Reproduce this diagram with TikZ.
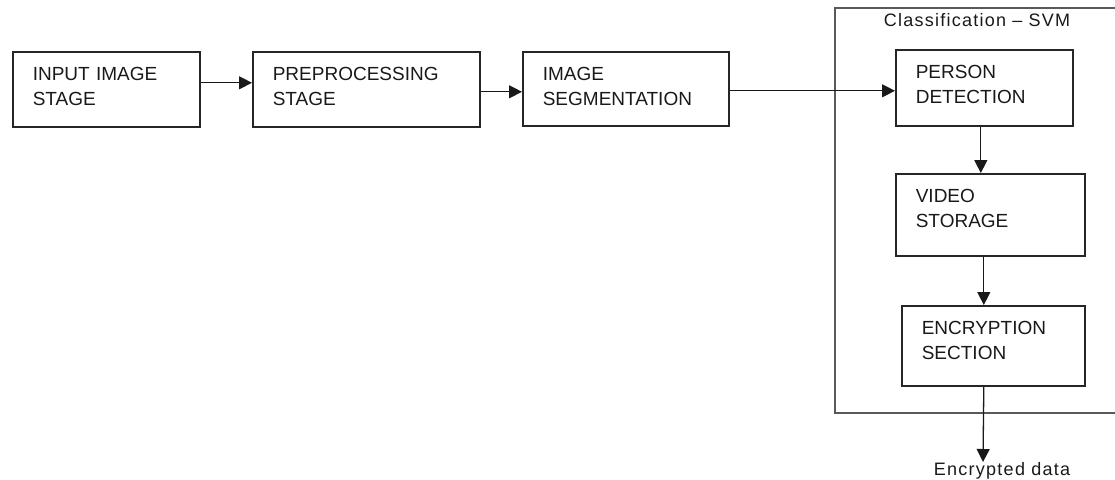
\documentclass[tikz,border=0pt]{standalone}
\usepackage{fontspec}
\setmainfont{Liberation Sans}
\usetikzlibrary{arrows.meta,positioning,calc}
\newcommand{\boxfont}{\fontsize{19}{25}\selectfont}
\newcommand{\notefont}{\fontsize{18}{22}\selectfont\addfontfeature{LetterSpace=7}}
\tikzstyle{stagebox}=[rectangle, draw=black!85, line width=1.6pt, anchor=north west,
  inner xsep=20pt, inner ysep=0pt, align=left, text height=29pt, text=black!90, font=\boxfont]
\tikzstyle{flow}=[-{Triangle[length=13pt,width=13pt]}, line width=1.3pt, draw=black!90]
\tikzstyle{svmframe}=[rectangle, draw=black!65, line width=2pt, anchor=north west, inner sep=0pt]

\begin{document}
\begin{tikzpicture}[x=1pt,y=-1pt]
\useasboundingbox (0,0) rectangle (1115,479);

% classification frame (runs past the right edge)
\node[svmframe, minimum width=290pt, minimum height=405pt] (svm) at (834,7) {};
\node[font=\notefont, text=black!90, anchor=base] (svmtitle) at (977,26) {Classification -- SVM};

% main stages
\node[stagebox, text width=147pt, text depth=46pt] (input) at (12,51) {INPUT IMAGE\\STAGE};
\node[stagebox, text width=187pt, text depth=46pt] (prep) at (252,51) {PREPROCESSING\\STAGE};
\node[stagebox, text width=166pt, text depth=45pt] (seg) at (522,51) {IMAGE\\SEGMENTATION};

% inside the frame
\node[stagebox, text width=137pt, text depth=47pt] (person) at (895,49) {PERSON\\DETECTION};
\node[stagebox, text width=149pt, text depth=53pt] (video) at (895,173) {VIDEO\\STORAGE};
\node[stagebox, text width=143pt, text depth=51pt] (crypt) at (901,305) {ENCRYPTION\\SECTION};

% output
\coordinate (tip) at (983,462);
\node[font=\notefont, text=black!90, anchor=base] (out) at (1002,475) {Encrypted data};

% connectors
\draw[flow] ([yshift=6.5pt]input.east) -- ([yshift=6.5pt]input.east -| prep.west);
\draw[flow] ([yshift=-2.5pt]prep.east) -- ([yshift=-2.5pt]prep.east -| seg.west);
\draw[flow] ([yshift=-2pt]seg.east) -- ([yshift=-2pt]seg.east -| person.west);
\draw[flow] ([xshift=-3.5pt]person.south) -- ([xshift=-9.5pt]video.north);
\draw[flow] ([xshift=-6.5pt]video.south) -- ([xshift=-9.5pt]crypt.north);
\draw[flow] ([xshift=-9.5pt]crypt.south) -- (tip);
\end{tikzpicture}
\end{document}
